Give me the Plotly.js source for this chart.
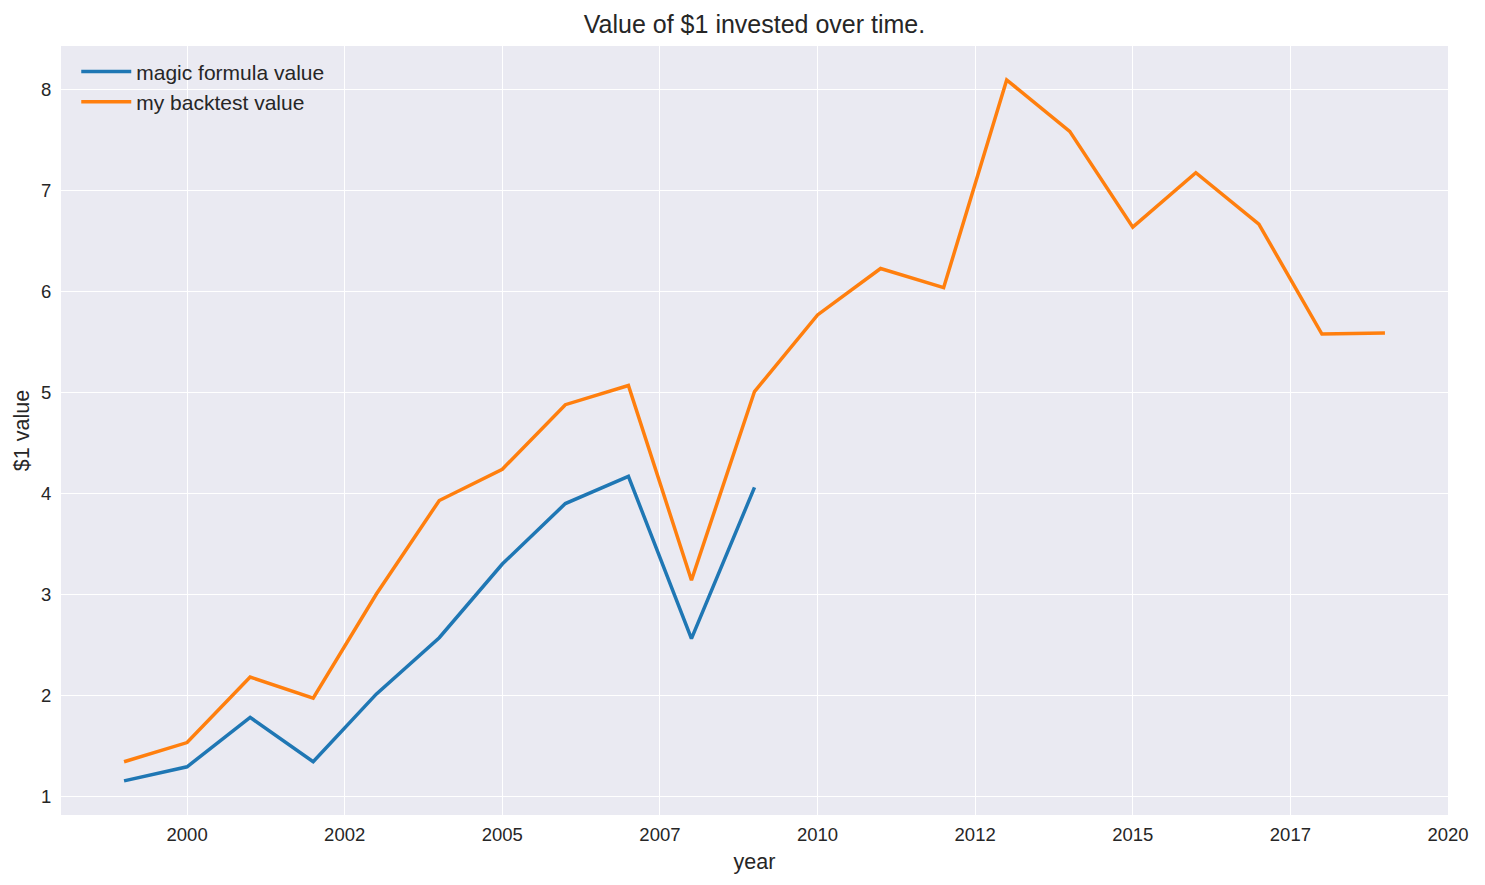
<!DOCTYPE html>
<html>
<head>
<meta charset="utf-8">
<script src="https://cdn.plot.ly/plotly-3.0.1.min.js"></script>
<style>html,body{margin:0;padding:0;background:#fff;}#chart{width:1485px;height:885px;}</style>
</head>
<body>
<div id="chart"></div>
<script>
const magicYears = [1999, 2000, 2001, 2002, 2003, 2004, 2005, 2006, 2007, 2008, 2009];
const magicValues = [1.15, 1.29, 1.78, 1.34, 2.01, 2.57, 3.30, 3.90, 4.17, 2.56, 4.06];
const backtestYears = [1999, 2000, 2001, 2002, 2003, 2004, 2005, 2006, 2007, 2008, 2009, 2010, 2011, 2012, 2013, 2014, 2015, 2016, 2017, 2018, 2019];
const backtestValues = [1.34, 1.53, 2.18, 1.97, 3.00, 3.93, 4.24, 4.88, 5.07, 3.14, 5.01, 5.77, 6.23, 6.04, 8.10, 7.59, 6.64, 7.18, 6.67, 5.58, 5.59];
const xTickVals = [2000, 2002.5, 2005, 2007.5, 2010, 2012.5, 2015, 2017.5, 2020];
const xTickText = ['2000', '2002', '2005', '2007', '2010', '2012', '2015', '2017', '2020'];
const yTickVals = [1, 2, 3, 4, 5, 6, 7, 8];

const font = 'Liberation Sans, Arial, sans-serif';
const traces = [
  {x: magicYears, y: magicValues, type: 'scatter', mode: 'lines', name: 'magic formula value',
   line: {color: '#1f77b4', width: 3.5}},
  {x: backtestYears, y: backtestValues, type: 'scatter', mode: 'lines', name: 'my backtest value',
   line: {color: '#ff7f0e', width: 3.5}}
];
const layout = {
  width: 1485, height: 885,
  margin: {l: 61, r: 37, t: 46, b: 70},
  paper_bgcolor: '#ffffff',
  plot_bgcolor: '#eaeaf2',
  font: {family: font, color: '#262626', size: 18},
  title: {text: 'Value of $1 invested over time.', xref: 'paper', x: 0.5, xanchor: 'center', y: 0.973, yanchor: 'middle',
          font: {size: 25, color: '#262626', family: font}},
  showlegend: true,
  legend: {x: 0.011, y: 0.993, xanchor: 'left', yanchor: 'top', bgcolor: 'rgba(0,0,0,0)',
           font: {size: 21, color: '#262626'}, tracegroupgap: 0, itemwidth: 50},
  xaxis: {
    range: [1998, 2020], tickmode: 'array', tickvals: xTickVals, ticktext: xTickText,
    showgrid: true, gridcolor: '#ffffff', gridwidth: 1, zeroline: false, showline: false,
    ticks: 'outside', ticklen: 3, tickcolor: 'rgba(0,0,0,0)', tickfont: {size: 18.5, color: '#262626'},
    title: {text: 'year', font: {size: 21.5, color: '#262626'}, standoff: 9}
  },
  yaxis: {
    range: [0.812, 8.436], tickmode: 'array', tickvals: yTickVals,
    showgrid: true, gridcolor: '#ffffff', gridwidth: 1, zeroline: false, showline: false,
    ticks: 'outside', ticklen: 5, tickcolor: 'rgba(0,0,0,0)', tickfont: {size: 18.5, color: '#262626'},
    title: {text: '$1 value', font: {size: 21.5, color: '#262626'}, standoff: 5}
  }
};
Plotly.newPlot('chart', traces, layout, {displayModeBar: false, staticPlot: true});
</script>
</body>
</html>
